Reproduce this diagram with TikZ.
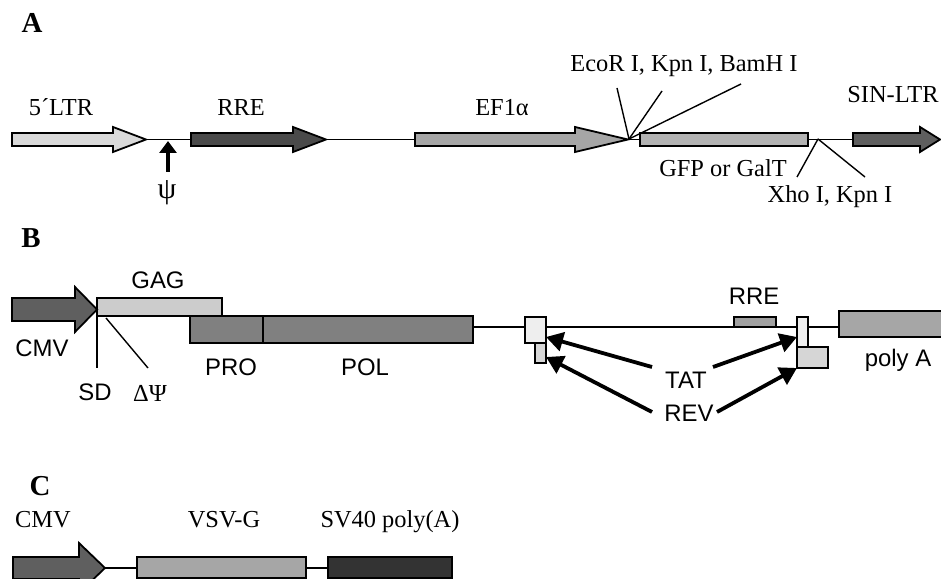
\documentclass[tikz,border=0pt]{standalone}
\usepackage{fontspec}
\setmainfont{Liberation Serif}
\newfontfamily\arialf{Liberation Sans}
\usetikzlibrary{fit,arrows.meta}
\definecolor{cltr}{HTML}{D9D9D9}
\definecolor{crre}{HTML}{4A4A4A}
\definecolor{cef}{HTML}{A6A6A6}
\definecolor{cgfp}{HTML}{B3B3B3}
\definecolor{csin}{HTML}{5F5F5F}
\definecolor{ccmv}{HTML}{5F5F5F}
\definecolor{cgag}{HTML}{CCCCCC}
\definecolor{cpol}{HTML}{808080}
\definecolor{ctat}{HTML}{EEEEEE}
\definecolor{crev}{HTML}{D6D6D6}
\definecolor{crreb}{HTML}{A0A0A0}
\definecolor{cpolya}{HTML}{A6A6A6}
\definecolor{cvsv}{HTML}{A6A6A6}
\definecolor{csv}{HTML}{333333}
% x0, head start, tip, y centre, half body, half head, fill
\newcommand\blockarrow[7]{\filldraw[box,fill=#7] (#1,{#4-#5}) -- (#2,{#4-#5}) -- (#2,{#4-#6}) -- (#3,#4) -- (#2,{#4+#6}) -- (#2,{#4+#5}) -- (#1,{#4+#5}) -- cycle;}
\begin{document}
\begin{tikzpicture}[x=1bp,y=-1bp,line join=miter,
  box/.style={draw=black, line width=1.8bp, inner sep=0pt, outer sep=0pt},
  bbone/.style={draw=black, line width=1.6bp},
  tlab/.style={inner sep=0pt, anchor=base, font=\fontsize{24.5}{28}\selectfont},
  alab/.style={inner sep=0pt, anchor=base, font=\arialf\fontsize{24}{28}\selectfont},
  plab/.style={inner sep=0pt, anchor=base, font=\bfseries\fontsize{29}{32}\selectfont},
  pointer/.style={-{Triangle[length=17bp,width=19bp]}, line width=3.8bp},
  site/.style={draw=black, line width=1.4bp}]
\useasboundingbox (0,0) rectangle (941,579);
\fill[white] (0,0) rectangle (941,579);
\clip (0,0) rectangle (941,579);

% ---------------- Panel A ----------------
\node[plab] (pA) at (32,33) {A};
\draw[bbone] (140,139.5) -- (860,139.5);
\blockarrow{12}{113}{146}{139.5}{6.5}{12.5}{cltr}
\blockarrow{191}{293}{326}{139.5}{6.5}{12.5}{crre}
\blockarrow{415}{575}{628}{139.5}{6.5}{12.5}{cef}
\node[box, fill=cgfp, fit={(640,133) (808,146)}] (gfp) {};
\blockarrow{853}{920}{940}{139.5}{6.5}{12.5}{csin}

\node[tlab] (ltr) at (61,116) {5´LTR};
\node[tlab] (rreA) at (241,116) {RRE};
\node[tlab] (ef) at (502,116) {EF1α};
\node[tlab] (sin) at (893,103) {SIN-LTR};
\node[tlab] (eco) at (684,72) {EcoR I, Kpn I, BamH I};
\node[tlab] (gfplab) at (723,177) {GFP or GalT};
\node[tlab] (xho) at (830,203) {Xho I, Kpn I};
\node[tlab, font=\fontsize{30}{32}\selectfont] (psi) at (167,199) {ψ};

\coordinate (psitail) at (168,172);
\coordinate (psitip) at (168,141);
\draw[-{Triangle[length=12bp,width=17bp]}, line width=3.6bp] (psitail) -- (psitip);

\coordinate (cut1) at (629,139);
\coordinate (e1) at (617,88);
\coordinate (e2) at (662,91);
\coordinate (e3) at (741,84);
\draw[site] (cut1) -- (e1);
\draw[site] (cut1) -- (e2);
\draw[site] (cut1) -- (e3);
\coordinate (cut2) at (818,139);
\coordinate (e4) at (797,177);
\coordinate (e5) at (865,177);
\draw[site] (cut2) -- (e4);
\draw[site] (cut2) -- (e5);

% ---------------- Panel B ----------------
\node[plab] (pB) at (31,248) {B};
\draw[bbone] (200,327) -- (860,327);
\node[box, fill=cgag, fit={(97,298) (222,316)}] (gag) {};
\node[box, fill=cpol, fit={(190,316) (263,343)}] (pro) {};
\node[box, fill=cpol, fit={(263,316) (473,343)}] (pol) {};
\blockarrow{12}{75}{97}{309.5}{11.5}{22.5}{ccmv}
\node[box, fill=ctat, fit={(525,317) (546,343)}] (tat1) {};
\node[box, fill=crev, fit={(535,343) (546,363)}] (rev1) {};
\node[box, fill=crreb, fit={(734,317) (776,327)}] (rreB) {};
\node[box, fill=ctat, fit={(797,317) (808,347)}] (tat2) {};
\node[box, fill=crev, fit={(797,347) (828,368)}] (rev2) {};
\node[box, fill=cpolya, fit={(839,311) (950,337)}] (polya) {};

\node[alab] (gaglab) at (158,288) {GAG};
\node[alab] (cmvB) at (42,356) {CMV};
\node[alab] (prolab) at (231,375) {PRO};
\node[alab] (pollab) at (365,375) {POL};
\node[alab] (sd) at (95,400) {SD};
\node[tlab] (dpsi) at (150,401) {ΔΨ};
\node[alab] (rreBlab) at (754,304) {RRE};
\node[alab] (tat) at (686,388) {TAT};
\node[alab] (rev) at (689,421) {REV};
\node[alab] (polyalab) at (898,366) {poly A};

\coordinate (sdtop) at (97,316);
\coordinate (sdbot) at (97,368);
\draw[site] (sdtop) -- (sdbot);
\coordinate (dptop) at (106,318);
\coordinate (dpbot) at (148,368);
\draw[site] (dptop) -- (dpbot);

\coordinate (t1s) at (652,367);
\coordinate (t2s) at (713,367);
\coordinate (r1s) at (652,412);
\coordinate (r2s) at (717,412);
\draw[pointer] (t1s) -- (tat1.east |- 0,337);
\draw[pointer] (t2s) -- (tat2.west |- 0,337);
\draw[pointer] (r1s) -- (rev1.east |- 0,357);
\draw[pointer] (r2s) -- (rev2.south west);

% ---------------- Panel C ----------------
\node[plab] (pC) at (40,495) {C};
\draw[bbone] (100,568) -- (330,568);
\blockarrow{13}{79}{105}{568}{11}{25}{ccmv}
\node[box, fill=cvsv, fit={(137,557) (306,578)}] (vsv) {};
\node[box, fill=csv, fit={(328,557) (452,578)}] (sv40) {};
\node[tlab] (cmvC) at (43,527) {CMV};
\node[tlab] (vsvlab) at (224,527) {VSV-G};
\node[tlab] (svlab) at (390,527) {SV40 poly(A)};
\end{tikzpicture}
\end{document}
